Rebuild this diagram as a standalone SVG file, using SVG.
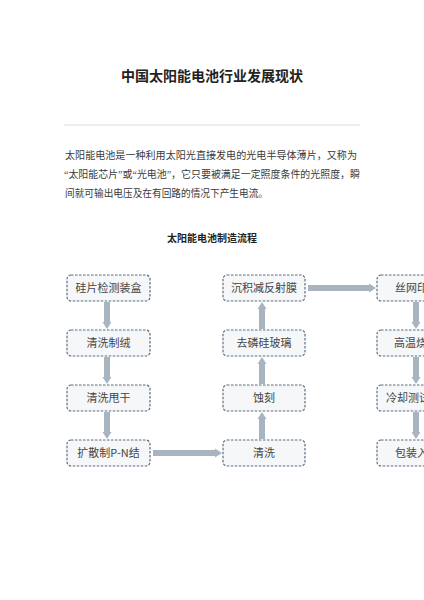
<svg xmlns="http://www.w3.org/2000/svg" width="424" height="600" viewBox="0 0 424 600">
<defs>
<style>
.t{font-family:"Liberation Serif","Noto Sans CJK SC",serif;fill:#333}
.title{font-size:14px;font-weight:bold;fill:#222}
.para{font-size:10px;fill:#3a3a3a}
.sub{font-size:10px;font-weight:bold;fill:#222}
.box rect{fill:#f5f7f9;stroke:#5d6e80;stroke-width:1.2;stroke-dasharray:2.5 1.5}
.box text{font-family:"Noto Sans CJK SC",sans-serif;font-size:11px;fill:#444;text-anchor:middle}
.conn line{stroke:#a8b4c0;stroke-width:6}
.conn path{fill:#a8b4c0}
</style>
</defs>
<rect width="424" height="600" fill="#fff"/>
<text class="t title" x="212" y="81" text-anchor="middle" font-family="Noto Sans CJK SC,sans-serif">中国太阳能电池行业发展现状</text>
<line x1="64" y1="125" x2="360" y2="125" stroke="#eeeeee" stroke-width="2"/>
<g font-family="Noto Sans CJK SC,sans-serif">
<text class="t para" x="65" y="159" textLength="292" lengthAdjust="spacingAndGlyphs">太阳能电池是一种利用太阳光直接发电的光电半导体薄片，又称为</text>
<text class="t para" x="64" y="178" textLength="296" lengthAdjust="spacingAndGlyphs">“太阳能芯片”或“光电池”，它只要被满足一定照度条件的光照度，瞬</text>
<text class="t para" x="65" y="197" textLength="203" lengthAdjust="spacingAndGlyphs">间就可输出电压及在有回路的情况下产生电流。</text>
</g>
<text class="t sub" x="212" y="242" text-anchor="middle" font-family="Noto Sans CJK SC,sans-serif">太阳能电池制造流程</text>
<g class="conn" id="connectors">
<line x1="107" y1="302" x2="107" y2="323"/><path d="M102.5,322 L111.5,322 L107,329 Z"/>
<line x1="107" y1="357" x2="107" y2="378"/><path d="M102.5,377 L111.5,377 L107,384 Z"/>
<line x1="107" y1="412" x2="107" y2="433"/><path d="M102.5,432 L111.5,432 L107,439 Z"/>
<line x1="153" y1="453" x2="216" y2="453"/><path d="M215,448.5 L215,457.5 L222,453 Z"/>
<line x1="262" y1="439" x2="262" y2="418"/><path d="M257.5,419 L266.5,419 L262,412 Z"/>
<line x1="262" y1="384" x2="262" y2="363"/><path d="M257.5,364 L266.5,364 L262,357 Z"/>
<line x1="262" y1="329" x2="262" y2="308"/><path d="M257.5,309 L266.5,309 L262,302 Z"/>
<line x1="308" y1="288" x2="370" y2="288"/><path d="M369,283.5 L369,292.5 L376,288 Z"/>
<line x1="416" y1="302" x2="416" y2="323"/><path d="M411.5,322 L420.5,322 L416,329 Z"/>
<line x1="416" y1="357" x2="416" y2="378"/><path d="M411.5,377 L420.5,377 L416,384 Z"/>
<line x1="416" y1="412" x2="416" y2="433"/><path d="M411.5,432 L420.5,432 L416,439 Z"/>
</g>
<g class="box" id="n1"><rect x="67" y="275" width="83" height="26" rx="4"/><text x="108.5" y="292">硅片检测装盒</text></g>
<g class="box" id="n2"><rect x="67" y="330" width="83" height="26" rx="4"/><text x="108.5" y="347">清洗制绒</text></g>
<g class="box" id="n3"><rect x="67" y="385" width="83" height="26" rx="4"/><text x="108.5" y="402">清洗甩干</text></g>
<g class="box" id="n4"><rect x="67" y="440" width="83" height="26" rx="4"/><text x="108.5" y="457">扩散制P-N结</text></g>
<g class="box" id="n5"><rect x="223" y="440" width="82" height="26" rx="4"/><text x="264" y="457">清洗</text></g>
<g class="box" id="n6"><rect x="223" y="385" width="82" height="26" rx="4"/><text x="264" y="402">蚀刻</text></g>
<g class="box" id="n7"><rect x="223" y="330" width="82" height="26" rx="4"/><text x="264" y="347">去磷硅玻璃</text></g>
<g class="box" id="n8"><rect x="223" y="275" width="82" height="26" rx="4"/><text x="264" y="292">沉积减反射膜</text></g>
<g class="box" id="n9"><rect x="377" y="275" width="83" height="26" rx="4"/><text x="395" y="292" style="text-anchor:start">丝网印刷</text></g>
<g class="box" id="n10"><rect x="377" y="330" width="83" height="26" rx="4"/><text x="394" y="347" style="text-anchor:start">高温烧结</text></g>
<g class="box" id="n11"><rect x="377" y="385" width="83" height="26" rx="4"/><text x="386" y="402" style="text-anchor:start">冷却测试</text></g>
<g class="box" id="n12"><rect x="377" y="440" width="83" height="26" rx="4"/><text x="395" y="457" style="text-anchor:start">包装入库</text></g>
</svg>
